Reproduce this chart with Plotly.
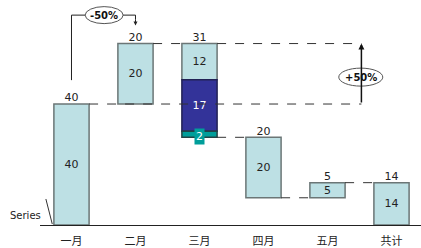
import plotly.graph_objects as go

categories = ["一月", "二月", "三月", "四月", "五月", "共计"]
light_values = [40, 20, 12, 20, 5, 14]
light_bases = [0, 40, 48, 9, 9, 0]
top_labels = [40, 20, 31, 20, 5, 14]
top_levels = [40, 60, 60, 29, 14, 14]
mar_dark_value = 17
mar_dark_base = 31
mar_teal_value = 2
mar_teal_base = 29
series_name = "Series"

FONT = "DejaVu Sans, Noto Sans CJK SC, sans-serif"
LIGHT = "#bde0e4"
EDGE = "#6b7676"
DARK = "#333399"
TEAL = "#009e9a"
BW = 0.55
idx = list(range(len(categories)))

fig = go.Figure()
fig.add_trace(go.Bar(
    x=idx, y=light_values, base=light_bases, width=BW,
    marker=dict(color=LIGHT, line=dict(color=EDGE, width=1.5)),
    text=[str(v) for v in light_values], textposition="inside",
    insidetextanchor="middle", textangle=0, constraintext="none",
    textfont=dict(family=FONT, size=11, color="#222"),
    hoverinfo="skip"))
fig.add_trace(go.Bar(
    x=[2], y=[mar_dark_value], base=[mar_dark_base], width=BW,
    marker=dict(color=DARK, line=dict(color="#222255", width=1.5)),
    text=[str(mar_dark_value)], textposition="inside",
    insidetextanchor="middle", textangle=0, constraintext="none",
    textfont=dict(family=FONT, size=11, color="white"), hoverinfo="skip"))
fig.add_trace(go.Bar(
    x=[2], y=[mar_teal_value], base=[mar_teal_base], width=BW,
    marker=dict(color=TEAL, line=dict(color="#224444", width=1.5)),
    hoverinfo="skip"))
fig.add_trace(go.Scatter(
    x=idx, y=top_levels, mode="text", text=[str(v) for v in top_labels],
    textposition="top center",
    textfont=dict(family=FONT, size=11, color="#222"), hoverinfo="skip"))

shapes = []
annotations = []
h = BW / 2
dash = dict(color="#333", width=1, dash="dash")
arrow_x = 4.53
# connectors
shapes.append(dict(type="line", xref="x", yref="y", x0=0 + h, x1=arrow_x, y0=top_levels[0], y1=top_levels[0], line=dash, layer="above"))
shapes.append(dict(type="line", xref="x", yref="y", x0=1 + h, x1=2 - h, y0=top_levels[1], y1=top_levels[1], line=dash))
shapes.append(dict(type="line", xref="x", yref="y", x0=2 + h, x1=arrow_x, y0=top_levels[2], y1=top_levels[2], line=dash))
shapes.append(dict(type="line", xref="x", yref="y", x0=2 + h, x1=3 - h, y0=mar_teal_base, y1=mar_teal_base, line=dash))
shapes.append(dict(type="line", xref="x", yref="y", x0=3 + h, x1=4 - h, y0=light_bases[3], y1=light_bases[3], line=dash))
shapes.append(dict(type="line", xref="x", yref="y", x0=4 + h, x1=5 - h, y0=light_bases[4] + light_values[4], y1=light_bases[4] + light_values[4], line=dash))

# -50% bracket
solid = dict(color="#222", width=1)
shapes.append(dict(type="path", xref="x", yref="y",
                   path="M 0,47.9 L 0,69.4 L 1,69.4 L 1,68", line=solid))
shapes.append(dict(type="circle", xref="x", yref="y", xsizemode="pixel", ysizemode="pixel",
                   xanchor=0.51, yanchor=69.4, x0=-19, x1=19, y0=-8.5, y1=8.5,
                   line=dict(color="#555", width=1), fillcolor="white"))
annotations.append(dict(x=0.51, y=69.4, xref="x", yref="y", text="<b>-50%</b>", showarrow=False,
                        font=dict(family=FONT, size=10, color="#111")))
annotations.append(dict(x=1, y=66.0, ax=1, ay=68.5, xref="x", yref="y", axref="x", ayref="y",
                        text="", showarrow=True, arrowhead=2, arrowsize=0.8, arrowwidth=1, arrowcolor="#222"))

# +50% arrow
annotations.append(dict(x=arrow_x, y=top_levels[2], ax=arrow_x, ay=top_levels[0], xref="x", yref="y",
                        axref="x", ayref="y", text="", showarrow=True, arrowhead=2, arrowsize=0.8,
                        arrowwidth=1.5, arrowcolor="#111"))
shapes.append(dict(type="circle", xref="x", yref="y", xsizemode="pixel", ysizemode="pixel",
                   xanchor=arrow_x - 0.01, yanchor=48.9, x0=-22, x1=22, y0=-9, y1=9,
                   line=dict(color="#555", width=1), fillcolor="white", layer="above"))
annotations.append(dict(x=arrow_x - 0.01, y=48.9, xref="x", yref="y", text="<b>+50%</b>", showarrow=False,
                        font=dict(family=FONT, size=10, color="#111")))

# teal label
annotations.append(dict(x=2, y=mar_teal_base + 0.2, xref="x", yref="y", text=str(mar_teal_value),
                        showarrow=False, bgcolor=TEAL, borderpad=1,
                        font=dict(family=FONT, size=11, color="white")))

# Series label with leader line
annotations.append(dict(x=-0.085, y=3.0, xref="paper", yref="y", xanchor="left", text=series_name,
                        showarrow=False, font=dict(family=FONT, size=10, color="#222")))
shapes.append(dict(type="line", xref="x", yref="y", x0=-0.4, y0=8.6, x1=-0.3, y1=0.3,
                   line=dict(color="#333", width=1)))

fig.update_layout(
    width=421, height=248, barmode="overlay",
    margin=dict(l=40, r=0, t=0, b=23),
    paper_bgcolor="white", plot_bgcolor="white",
    showlegend=False, shapes=shapes, annotations=annotations,
    xaxis=dict(range=[-0.492, 5.461], tickmode="array", tickvals=idx, ticktext=categories,
               showline=True, linecolor="#222", linewidth=1, showgrid=False, zeroline=False,
               ticks="", tickfont=dict(family=FONT, size=11, color="#222"), ticklabelstandoff=6),
    yaxis=dict(range=[0, 74.4], visible=False, showgrid=False, zeroline=False),
)
fig.write_html("out.html", config={"displayModeBar": False},
               post_script="document.body.style.margin='0';")
